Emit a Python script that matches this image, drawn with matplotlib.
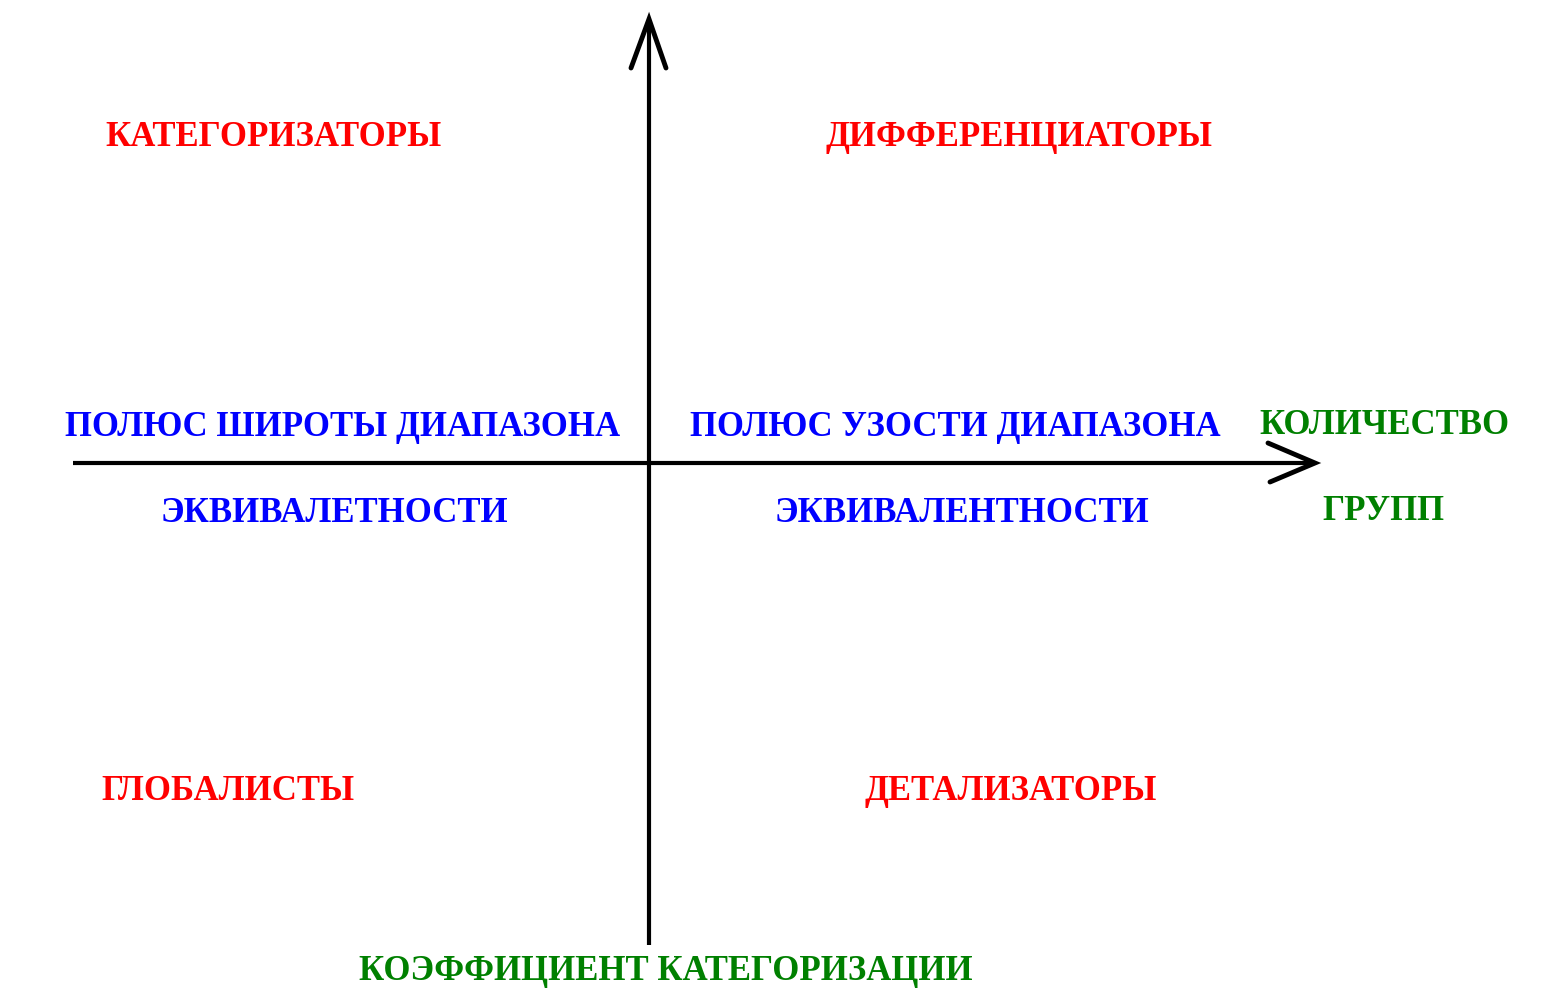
import matplotlib
matplotlib.use("Agg")
import matplotlib.pyplot as plt

# Quadrant labels
quadrant_labels = ["КАТЕГОРИЗАТОРЫ", "ДИФФЕРЕНЦИАТОРЫ", "ГЛОБАЛИСТЫ", "ДЕТАЛИЗАТОРЫ"]
pole_labels = ["ПОЛЮС ШИРОТЫ ДИАПАЗОНА", "ЭКВИВАЛЕТНОСТИ",
               "ПОЛЮС УЗОСТИ ДИАПАЗОНА", "ЭКВИВАЛЕНТНОСТИ"]
axis_labels = ["КОЛИЧЕСТВО", "ГРУПП", "КОЭФФИЦИЕНТ КАТЕГОРИЗАЦИИ"]

W, H = 1554, 998
fig = plt.figure(figsize=(W / 100, H / 100), dpi=100)
ax = fig.add_axes([0, 0, 1, 1])
ax.set_xlim(0, W)
ax.set_ylim(H, 0)
ax.axis("off")

lw = 3.0
cx, cy = 649, 463
# axes
ax.plot([cx, cx], [20, 945], color="black", lw=lw, solid_capstyle="butt")
ax.plot([73, 1313], [cy, cy], color="black", lw=lw, solid_capstyle="butt")
# open arrowheads
ax.plot([631, cx, 666], [68, 19, 68], color="black", lw=3.5,
        solid_joinstyle="miter", solid_capstyle="round")
ax.plot([1268, 1315, 1270], [443, 463, 482], color="black", lw=3.5,
        solid_joinstyle="miter", solid_capstyle="round")

font = dict(family=["Liberation Serif", "DejaVu Serif"], fontweight="bold",
            fontsize=25, ha="center", va="center")

red, blue, green = "#FF0000", "#0000FF", "#008000"

q_pos = [(274, 137), (1019, 137), (228, 792), (1011, 792)]
for t, (x, y) in zip(quadrant_labels, q_pos):
    ax.text(x, y, t, color=red, **font)

p_pos = [(343, 428), (334, 514), (955, 428), (962, 514)]
for t, (x, y) in zip(pole_labels, p_pos):
    ax.text(x, y, t, color=blue, **font)

a_pos = [(1384, 426), (1383, 512), (666, 972)]
for t, (x, y) in zip(axis_labels, a_pos):
    ax.text(x, y, t, color=green, **font)

fig.savefig("out.png", dpi=100, facecolor="white")
